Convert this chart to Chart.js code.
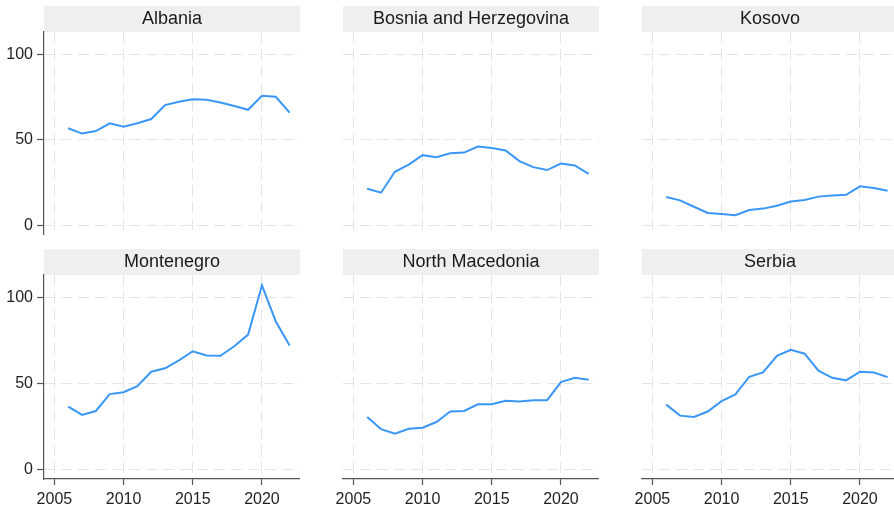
<!DOCTYPE html>
<html><head><meta charset="utf-8">
<script src="https://cdn.jsdelivr.net/npm/chart.js@4.4.1/dist/chart.umd.min.js"></script>
<style>
html,body{margin:0;padding:0;background:#fff;overflow:hidden;width:894px;height:510px;position:relative}
canvas{position:absolute}
</style></head><body>
<script>
// ---- data ----
const years = [2006,2007,2008,2009,2010,2011,2012,2013,2014,2015,2016,2017,2018,2019,2020,2021,2022];
const countries = ['Albania','Bosnia and Herzegovina','Kosovo','Montenegro','North Macedonia','Serbia'];
const albania      = [56.8,53.7,55.2,59.7,57.7,59.7,62.2,70.3,72.3,73.8,73.4,71.9,69.8,67.6,75.8,75.2,65.9];
const bosnia       = [21.5,19.2,31.4,35.6,41.1,39.9,42.2,42.6,46.1,45.3,43.8,37.6,34.1,32.4,36.2,35.1,30.2];
const kosovo       = [16.7,14.7,11.0,7.4,6.8,6.0,9.1,9.9,11.6,14.0,14.9,16.9,17.6,18.0,22.9,21.9,20.3];
const montenegro   = [36.6,31.7,34.0,43.8,44.9,48.4,56.8,58.8,63.4,68.7,66.3,66.1,71.6,78.4,107.0,86.0,72.0];
const northMacedonia = [30.5,23.5,20.8,23.7,24.3,27.6,33.7,34.0,37.9,37.9,39.9,39.5,40.3,40.3,50.8,53.3,52.1];
const serbia       = [37.7,31.3,30.5,33.7,39.7,43.6,53.9,56.4,66.1,69.6,67.3,57.4,53.3,51.8,56.8,56.4,53.7];
const seriesList = [albania,bosnia,kosovo,montenegro,northMacedonia,serbia];
const xTicks = [2005,2010,2015,2020];
const yTicks = [0,50,100];

// ---- layout / style ----
const FONT = "'Liberation Sans', Arial, sans-serif";
const plotLefts = [44,343,642];
const plotW = 256;
const stripTops = [6,249];
const plotBottoms = [235,479];
const X_MIN = 2004.25, X_MAX = 2022.75;
const Y_MIN = -5.5, Y_MAX = 113;

const stripPlugin = {
  id: 'strip',
  beforeDraw(chart) {
    const ca = chart.chartArea, tb = chart.titleBlock;
    if (!tb) return;
    const ctx = chart.ctx;
    ctx.save();
    ctx.fillStyle = '#efefef';
    ctx.fillRect(ca.left, tb.top, ca.right - ca.left, ca.top - tb.top);
    ctx.restore();
  }
};

countries.forEach((name, i) => {
  const col = i % 3, row = Math.floor(i / 3);
  const plotLeft = plotLefts[col];
  const yAxisW = col === 0 ? 44 : 24;
  const cLeft = plotLeft - yAxisW;
  const cW = plotLeft + plotW - cLeft;
  const cTop = stripTops[row];
  const cH = row === 1 ? 510 - cTop : plotBottoms[row] - cTop;
  const xAxisH = row === 1 ? 31 : 0;

  const cv = document.createElement('canvas');
  cv.width = cW; cv.height = cH;
  cv.style.left = cLeft + 'px'; cv.style.top = cTop + 'px';
  cv.style.width = cW + 'px'; cv.style.height = cH + 'px';
  document.body.appendChild(cv);

  new Chart(cv, {
    type: 'line',
    data: {
      datasets: [{
        data: years.map((y, k) => ({x: y, y: seriesList[i][k]})),
        borderColor: '#3a97f8',
        borderWidth: 2,
        pointRadius: 0,
        tension: 0,
        fill: false
      }]
    },
    plugins: [stripPlugin],
    options: {
      responsive: false,
      animation: false,
      devicePixelRatio: 1,
      layout: {padding: 0, autoPadding: false},
      plugins: {
        legend: {display: false},
        tooltip: {enabled: false},
        title: {
          display: true, text: name, fullSize: false, align: 'center',
          color: '#1a1a1a',
          font: {family: FONT, size: 18, weight: 'normal', lineHeight: '22px'},
          padding: {top: 2, bottom: 2}
        }
      },
      scales: {
        x: {
          type: 'linear', min: X_MIN, max: X_MAX,
          afterBuildTicks: s => { s.ticks = xTicks.map(v => ({value: v})); },
          afterFit: s => { s.height = xAxisH; s.paddingLeft = 0; s.paddingRight = 0; },
          grid: {color: '#e4e4e4', lineWidth: 1, drawTicks: row === 1, tickLength: 6, tickColor: '#555', tickWidth: 1.2},
          border: {display: row === 1, color: '#555', width: 1.2, dash: [11, 6]},
          ticks: {display: row === 1, color: '#1f1f1f', padding: 5, font: {family: FONT, size: 16}, callback: v => String(v), maxRotation: 0, autoSkip: false}
        },
        y: {
          type: 'linear', min: Y_MIN, max: Y_MAX,
          afterBuildTicks: s => { s.ticks = yTicks.map(v => ({value: v})); },
          afterFit: s => { s.width = yAxisW; s.paddingTop = 0; s.paddingBottom = 0; },
          grid: {color: '#e4e4e4', lineWidth: 1, drawTicks: col === 0, tickLength: 7, tickColor: '#555', tickWidth: 1.2},
          border: {display: col === 0, color: '#555', width: 1.2, dash: [11, 6]},
          ticks: {display: col === 0, color: '#1f1f1f', padding: 4, font: {family: FONT, size: 16}, callback: v => String(v), autoSkip: false}
        }
      }
    }
  });
});
</script>
</body></html>
